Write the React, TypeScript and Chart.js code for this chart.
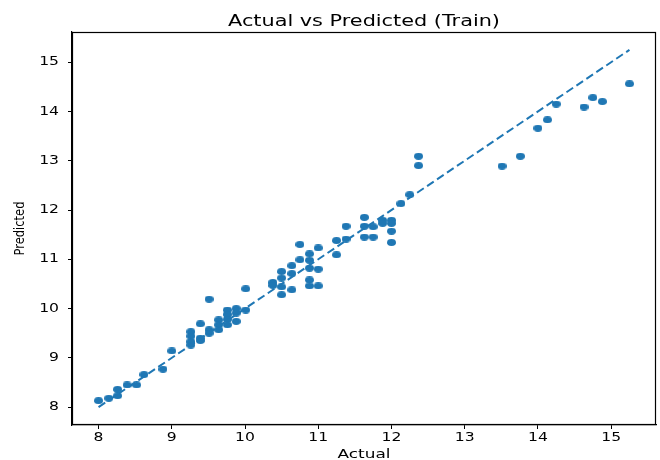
import React, { useEffect, useRef } from "react";
import { Chart, registerables } from "chart.js";

Chart.register(...registerables);

const actual: number[] = [
  8.0, 8.14, 8.26, 8.26, 8.39, 8.52, 8.62, 8.88, 9.0,
  9.26, 9.26, 9.26, 9.26, 9.39, 9.39, 9.39, 9.51, 9.51, 9.51,
  9.64, 9.64, 9.64, 9.76, 9.76, 9.76, 9.76, 9.88, 9.88, 9.88,
  10.01, 10.01, 10.38, 10.38, 10.5, 10.5, 10.5, 10.5,
  10.64, 10.64, 10.64, 10.75, 10.75, 10.88, 10.88, 10.88, 10.88, 10.88,
  11.0, 11.0, 11.0, 11.25, 11.25, 11.38, 11.38,
  11.63, 11.63, 11.63, 11.75, 11.75, 11.88, 11.88,
  12.0, 12.0, 12.0, 12.0, 12.13, 12.25, 12.37, 12.37,
  13.51, 13.76, 14.0, 14.13, 14.25, 14.63, 14.75, 14.88, 15.25,
];
const predicted: number[] = [
  8.13, 8.18, 8.23, 8.36, 8.45, 8.45, 8.66, 8.77, 9.14,
  9.53, 9.44, 9.33, 9.26, 9.69, 9.4, 9.35, 10.19, 9.57, 9.5,
  9.77, 9.67, 9.57, 9.97, 9.88, 9.78, 9.67, 10.0, 9.91, 9.74,
  10.4, 9.97, 10.53, 10.47, 10.75, 10.62, 10.44, 10.28,
  10.87, 10.71, 10.38, 11.3, 10.99, 11.11, 10.98, 10.82, 10.58, 10.46,
  11.23, 10.8, 10.46, 11.38, 11.09, 11.67, 11.41,
  11.85, 11.67, 11.45, 11.66, 11.45, 11.79, 11.73,
  11.79, 11.73, 11.57, 11.34, 12.13, 12.31, 13.09, 12.9,
  12.89, 13.09, 13.66, 13.83, 14.15, 14.09, 14.28, 14.2, 14.56,
];
const lineX: number[] = [8.0, 15.25];
const xTicks: number[] = [8, 9, 10, 11, 12, 13, 14, 15];
const yTicks: number[] = [8, 9, 10, 11, 12, 13, 14, 15];
const titleText = "Actual vs Predicted (Train)";
const xLabel = "Actual";
const yLabel = "Predicted";

const BLUE = "#1f77b4";
const FONT = "'DejaVu Sans', sans-serif";
const SX = 1.3;

function makeMarker(): HTMLCanvasElement {
  const c = document.createElement("canvas");
  c.width = 9;
  c.height = 7;
  const g = c.getContext("2d")!;
  g.fillStyle = BLUE;
  g.beginPath();
  g.ellipse(4.5, 3.5, 4.5, 3.4, 0, 0, Math.PI * 2);
  g.fill();
  return c;
}

function stretchText(ctx: CanvasRenderingContext2D, text: string, x: number, y: number, sx: number) {
  ctx.save();
  ctx.translate(x, y);
  ctx.scale(sx, 1);
  ctx.fillText(text, 0, 0);
  ctx.restore();
}

export default function App() {
  const ref = useRef<HTMLCanvasElement | null>(null);
  useEffect(() => {
    if (!ref.current) return;
    const marker = makeMarker();
    const framePlugin = {
      id: "frame",
      afterDraw(chart: any) {
        const { ctx, chartArea, scales } = chart;
        ctx.save();
        ctx.strokeStyle = "#000";
        ctx.lineWidth = 1.2;
        ctx.strokeRect(chartArea.left + 0.5, chartArea.top + 0.5, chartArea.right - chartArea.left - 1, chartArea.bottom - chartArea.top - 1);
        ctx.fillStyle = "#000";
        ctx.textAlign = "center";
        ctx.textBaseline = "middle";
        const cx = (chartArea.left + chartArea.right) / 2;
        ctx.font = `16px ${FONT}`;
        stretchText(ctx, titleText, cx, 22, SX);
        ctx.font = `13px ${FONT}`;
        stretchText(ctx, xLabel, cx, 455, SX);
        ctx.font = `12px ${FONT}`;
        for (const v of xTicks) {
          stretchText(ctx, String(v), scales.x.getPixelForValue(v), 438, SX);
        }
        ctx.textAlign = "right";
        for (const v of yTicks) {
          stretchText(ctx, String(v), 59, scales.y.getPixelForValue(v), SX);
        }
        ctx.save();
        ctx.translate(20.5, (chartArea.top + chartArea.bottom) / 2);
        ctx.scale(SX, 1);
        ctx.rotate(-Math.PI / 2);
        ctx.textAlign = "center";
        ctx.font = `11.5px ${FONT}`;
        ctx.fillText(yLabel, 0, 0);
        ctx.restore();
        ctx.restore();
      },
    };
    const chart = new Chart(ref.current, {
      type: "scatter",
      data: {
        datasets: [
          {
            type: "line",
            data: lineX.map((v) => ({ x: v, y: v })),
            borderColor: BLUE,
            borderWidth: 2,
            borderDash: [8, 4],
            pointRadius: 0,
            fill: false,
            order: 0,
          } as any,
          {
            data: actual.map((a, i) => ({ x: a, y: predicted[i] })),
            backgroundColor: BLUE,
            borderColor: BLUE,
            pointStyle: marker,
            pointRadius: 4,
            pointBorderWidth: 0,
            order: 1,
          },
        ],
      },
      options: {
        animation: false,
        responsive: false,
        maintainAspectRatio: false,
        layout: { padding: { left: 0, top: 32, right: 3, bottom: 0 } },
        plugins: { legend: { display: false }, tooltip: { enabled: false }, title: { display: false } },
        scales: {
          x: {
            type: "linear",
            min: 7.6375,
            max: 15.6125,
            afterBuildTicks: (s: any) => {
              s.ticks = xTicks.map((v) => ({ value: v }));
            },
            afterFit: (s: any) => {
              s.height = 35;
            },
            grid: { drawOnChartArea: false, drawTicks: true, tickLength: 4, color: "#000", tickWidth: 1 },
            border: { display: true, color: "#000", width: 1.2 },
            ticks: { display: false },
          },
          y: {
            type: "linear",
            min: 7.6375,
            max: 15.6125,
            afterBuildTicks: (s: any) => {
              s.ticks = yTicks.map((v) => ({ value: v }));
            },
            afterFit: (s: any) => {
              s.width = 72;
            },
            grid: { drawOnChartArea: false, drawTicks: true, tickLength: 4, color: "#000", tickWidth: 1 },
            border: { display: true, color: "#000", width: 1.2 },
            ticks: { display: false },
          },
        },
      },
      plugins: [framePlugin],
    });
    return () => chart.destroy();
  }, []);
  return (
    <div style={{ position: "fixed", left: 0, top: 0, width: 660, height: 460, background: "#fff" }}>
      <canvas ref={ref} width={660} height={460} style={{ width: 660, height: 460, display: "block" }} />
    </div>
  );
}
